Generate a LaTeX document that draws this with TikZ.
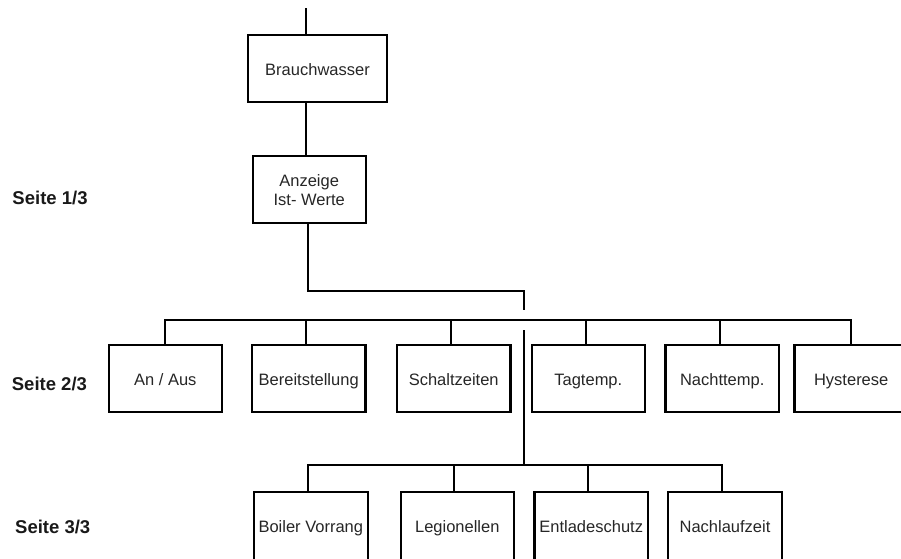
\documentclass[tikz,border=0pt]{standalone}
\usepackage{fontspec}
\setmainfont{Liberation Sans}
\begin{document}
\begin{tikzpicture}[x=1pt,y=-1pt,
  box/.style={draw=black,line width=2.1pt,rectangle,inner sep=0pt,
    minimum width=113.5pt,minimum height=67pt,align=center,
    text height=16pt,text depth=2.5pt,
    font=\fontsize{16.5}{19}\selectfont,text=black!85},
  wire/.style={draw=black,line width=2pt},
  pagelabel/.style={anchor=west,inner sep=0pt,font=\fontsize{18.5}{21}\selectfont\bfseries,text=black!90}]
\useasboundingbox (0,0) rectangle (901,558);
\clip (0,0) rectangle (901,558);

% page labels
\node[pagelabel] (p1) at (12.3,197.7) {Seite 1/3};
\node[pagelabel] (p2) at (11.7,384) {Seite 2/3};
\node[pagelabel] (p3) at (15,526.7) {Seite 3/3};

% top of the tree
\coordinate (topend) at (305.7,8);
\node[box,minimum width=138.4pt,text height=17.5pt] (brauch) at (317.5,68.3) {Brauchwasser};
\node[box,minimum width=113pt,text height=34pt] (anz) at (309.2,189.3) {Anzeige\\Ist- Werte};

% level 2 boxes
\node[box] (anaus)  at (165.3,378.5) {An / Aus};
\node[box] (bereit) at (308.7,378.5) {Bereitstellung};
\node[box] (schalt) at (453.7,378.5) {Schaltzeiten};
\node[box] (tag)    at (588.3,378.5) {Tagtemp.};
\node[box] (nacht)  at (722.2,378.5) {Nachttemp.};
\node[box] (hyst)   at (851.2,378.5) {Hysterese};

% level 3 boxes
\node[box,minimum height=68.6pt] (boiler)   at (310.8,526) {Boiler Vorrang};
\node[box,minimum height=68.6pt] (legion)   at (457.3,526) {Legionellen};
\node[box,minimum height=68.6pt] (entlade)  at (591.2,526) {Entladeschutz};
\node[box,minimum height=68.6pt] (nachlauf) at (725,526) {Nachlaufzeit};

% spine coordinates
\coordinate (bend)   at (523.5,290.7);
\coordinate (gaptop) at (523.5,310);
\coordinate (gapbot) at (524,330);
\coordinate (bar2)   at (0,320);
\coordinate (bar3)   at (0,465);

% connectors
\draw[wire] (topend) -- (topend |- brauch.north);
\draw[wire] (brauch.south -| topend) -- (anz.north -| topend);
\draw[wire] ([xshift=-1pt]anz.south) |- (bend) -- (gaptop);
\draw[wire] (gapbot) -- (gapbot |- bar3);

% level 2 bus
\draw[wire] (anaus.north) -- (anaus.north |- bar2) -| (hyst.north);
\foreach \n in {bereit,schalt,tag,nacht}
  \draw[wire] ([xshift=-2.5pt]\n.north) -- ([xshift=-2.5pt]\n.north |- bar2);

% level 3 bus
\draw[wire] ([xshift=-2.5pt]boiler.north) -- ([xshift=-2.5pt]boiler.north |- bar3)
  -| ([xshift=-3pt]nachlauf.north);
\foreach \n in {legion,entlade}
  \draw[wire] ([xshift=-3pt]\n.north) -- ([xshift=-3pt]\n.north |- bar3);
\end{tikzpicture}
\end{document}
